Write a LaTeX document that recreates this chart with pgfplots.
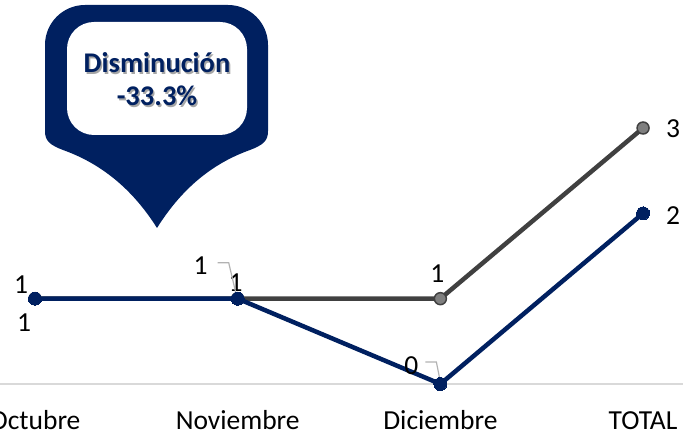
\documentclass[border=0pt]{standalone}
\usepackage{fontspec}
\setmainfont{Carlito}
\usepackage{pgfplots}
\pgfplotsset{compat=1.18}
\definecolor{navy}{HTML}{002060}
\definecolor{dgray}{HTML}{404040}
\definecolor{mgray}{HTML}{7F7F7F}
\definecolor{axgray}{HTML}{D9D9D9}
\begin{document}
\begin{tikzpicture}[x=1pt,y=1pt]
\useasboundingbox (0,0) rectangle (683,433);
\begin{axis}[
  at={(0pt,49pt)}, anchor=south west,
  scale only axis, width=683pt, height=341.33pt,
  xmin=-0.1727, xmax=3.197, ymin=0, ymax=4,
  axis y line=none, axis x line*=bottom,
  x axis line style={axgray, line width=1.5pt, -},
  xtick={0,1,2,3}, xticklabels={Octubre,Noviembre,Diciembre,TOTAL},
  major tick length=0pt,
  xticklabel style={font=\fontsize{27.5}{30}\selectfont, anchor=base, yshift=-46pt},
  clip=false,
]
\addplot[dgray, line width=4.5pt, mark=*, mark size=6pt,
  mark options={fill=mgray, draw=dgray, line width=1.5pt}]
  coordinates {(0,1) (1,1) (2,1) (3,3)};
\addplot[navy, line width=4.5pt, mark=*, mark size=6.5pt,
  mark options={fill=navy, draw=navy, line width=0pt}]
  coordinates {(0,1) (1,1) (2,0) (3,2)};
\tikzset{lbl/.style={font=\fontsize{27.5}{30}\selectfont, inner sep=0pt, text=black}}
\node[lbl, xshift=-14pt, yshift=14pt] at (axis cs:0,1) {1};
\node[lbl, xshift=-11pt, yshift=-24pt] at (axis cs:0,1) {1};
\node[lbl, xshift=-37pt, yshift=33pt] at (axis cs:1,1) {1};
\node[lbl, xshift=-2pt, yshift=16pt] at (axis cs:1,1) {1};
\node[lbl, xshift=-3pt, yshift=25pt] at (axis cs:2,1) {1};
\node[lbl, xshift=-29pt, yshift=18pt] at (axis cs:2,0) {0};
\node[lbl, xshift=30pt, yshift=-1pt] at (axis cs:3,3) {3};
\node[lbl, xshift=30pt, yshift=-2pt] at (axis cs:3,2) {2};
\draw[gray!60, line width=1.2pt] ([shift={(-20pt,36pt)}]axis cs:1,1) -- ([shift={(-9pt,36pt)}]axis cs:1,1) -- ([shift={(-1pt,2pt)}]axis cs:1,1);
\draw[gray!60, line width=1.2pt] ([shift={(-15pt,22pt)}]axis cs:2,0) -- ([shift={(-4pt,22pt)}]axis cs:2,0) -- ([shift={(0pt,2pt)}]axis cs:2,0);
\end{axis}
% callout
\fill[navy] (157,205) .. controls (135,240) and (105,268) .. (63,283)
  .. controls (50,288) and (45,292) .. (45,302) -- (45,388)
  arc[start angle=180, end angle=90, radius=40] -- (228,428)
  arc[start angle=90, end angle=0, radius=40] -- (268,302)
  .. controls (268,292) and (263,288) .. (250,283)
  .. controls (208,268) and (179,240) .. (157,205) -- cycle;
\fill[white, rounded corners=27pt] (67,298) rectangle (247,411);
\node[text=gray!70, font=\fontsize{28.5}{33}\selectfont\bfseries, align=center] at (158.5,352) {Disminución\\-33.3\%};
\node[text=navy, font=\fontsize{28.5}{33}\selectfont\bfseries, align=center] at (157,353.5) {Disminución\\-33.3\%};
\end{tikzpicture}
\end{document}
